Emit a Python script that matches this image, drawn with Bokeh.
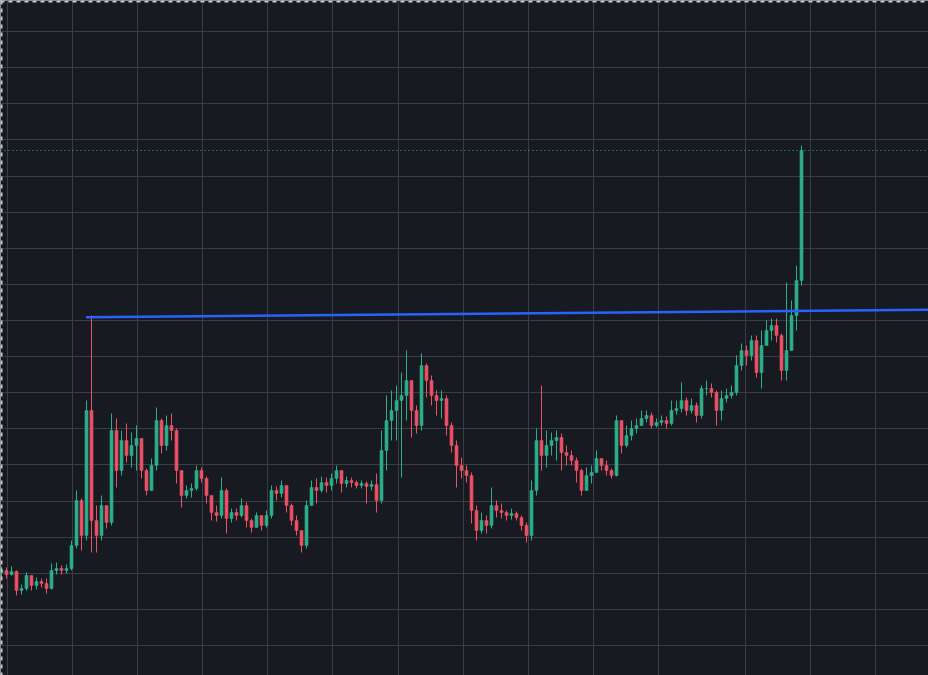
from bokeh.plotting import figure
from bokeh.models import Grid, FixedTicker, Span, ColumnDataSource
from bokeh.embed import file_html
from bokeh.resources import INLINE

# ---- data ----
first_open = 1.28
close = [1.30, 1.26, 1.29, 1.10, 1.12, 1.25, 1.15, 1.19, 1.17, 1.12,
         1.30, 1.32, 1.30, 1.32, 1.55, 2.00, 1.65, 2.90, 1.80, 1.65,
         1.95, 1.78, 2.70, 2.30, 2.60, 2.45, 2.55, 2.62, 2.30, 2.10,
         2.35, 2.80, 2.55, 2.75, 2.70, 2.30, 2.05, 2.10, 2.12, 2.30,
         2.22, 2.05, 1.88, 1.85, 2.10, 1.82, 1.88, 1.85, 1.95, 1.80,
         1.73, 1.85, 1.75, 1.85, 2.10, 2.07, 2.15, 1.95, 1.80, 1.70,
         1.55, 1.95, 2.13, 2.10, 2.18, 2.15, 2.22, 2.30, 2.17, 2.20,
         2.18, 2.15, 2.17, 2.14, 2.16, 2.00, 2.50, 2.80, 2.90, 3.00,
         3.05, 3.20, 2.90, 2.75, 3.35, 3.20, 3.05, 3.00, 3.02, 2.75,
         2.55, 2.35, 2.30, 2.25, 1.90, 1.70, 1.80, 1.75, 1.95, 1.90,
         1.88, 1.85, 1.87, 1.83, 1.75, 1.65, 2.10, 2.60, 2.45, 2.55,
         2.60, 2.63, 2.48, 2.45, 2.40, 2.30, 2.10, 2.25, 2.28, 2.42,
         2.35, 2.30, 2.25, 2.80, 2.55, 2.65, 2.72, 2.75, 2.82, 2.85,
         2.75, 2.78, 2.80, 2.77, 2.90, 2.92, 3.00, 2.90, 2.95, 2.85,
         3.12, 3.12, 3.08, 2.90, 3.02, 3.05, 3.08, 3.35, 3.50, 3.45,
         3.60, 3.28, 3.55, 3.70, 3.75, 3.65, 3.30, 3.50, 3.85, 4.20,
         5.50]
high = [1.34, 1.33, 1.34, 1.30, 1.16, 1.28, 1.24, 1.23, 1.22, 1.22,
        1.37, 1.38, 1.35, 1.36, 1.60, 2.10, 2.02, 3.00, 3.85, 1.95,
        2.05, 1.90, 2.87, 2.82, 2.70, 2.77, 2.68, 2.75, 2.60, 2.32,
        2.42, 2.93, 2.82, 2.85, 2.87, 2.72, 2.25, 2.15, 2.17, 2.35,
        2.33, 2.24, 2.05, 1.95, 2.23, 2.12, 1.92, 1.92, 2.02, 1.98,
        1.82, 1.88, 1.85, 1.90, 2.15, 2.14, 2.20, 2.15, 1.97, 1.85,
        1.70, 2.00, 2.20, 2.22, 2.24, 2.23, 2.27, 2.35, 2.28, 2.24,
        2.23, 2.20, 2.20, 2.19, 2.20, 2.27, 2.70, 3.05, 3.10, 3.15,
        3.28, 3.50, 3.15, 2.95, 3.47, 3.37, 3.25, 3.10, 3.10, 3.05,
        2.78, 2.60, 2.43, 2.35, 2.28, 1.95, 1.88, 1.85, 2.13, 2.00,
        1.97, 1.90, 1.92, 1.89, 1.85, 1.78, 2.20, 2.72, 3.15, 2.70,
        2.68, 2.70, 2.67, 2.55, 2.50, 2.43, 2.32, 2.33, 2.35, 2.50,
        2.42, 2.40, 2.32, 2.85, 2.75, 2.75, 2.80, 2.82, 2.90, 2.90,
        2.88, 2.82, 2.85, 2.84, 3.00, 3.00, 3.18, 3.03, 3.02, 2.98,
        3.15, 3.20, 3.17, 3.10, 3.10, 3.12, 3.15, 3.45, 3.57, 3.55,
        3.65, 3.65, 3.70, 3.80, 3.82, 3.82, 3.67, 4.18, 4.00, 4.35,
        5.55]
low = [1.23, 1.22, 1.25, 1.05, 1.06, 1.10, 1.10, 1.11, 1.13, 1.07,
       1.11, 1.26, 1.26, 1.27, 1.30, 1.52, 1.50, 1.60, 1.48, 1.48,
       1.60, 1.72, 1.75, 2.13, 2.25, 2.38, 2.33, 2.30, 2.22, 2.05,
       2.15, 2.30, 2.47, 2.50, 2.60, 2.17, 1.93, 2.02, 2.03, 2.10,
       2.18, 1.97, 1.80, 1.79, 1.82, 1.67, 1.78, 1.80, 1.83, 1.73,
       1.68, 1.75, 1.70, 1.73, 1.82, 2.00, 2.03, 1.88, 1.75, 1.65,
       1.48, 1.52, 1.95, 1.97, 2.08, 2.08, 2.10, 2.17, 2.08, 2.13,
       2.13, 2.12, 2.12, 1.97, 2.10, 1.88, 1.97, 2.30, 2.60, 2.60,
       2.23, 2.80, 2.63, 2.67, 2.70, 3.03, 2.95, 2.85, 2.82, 2.65,
       2.48, 2.13, 2.22, 2.18, 1.77, 1.60, 1.67, 1.67, 1.72, 1.83,
       1.82, 1.80, 1.81, 1.80, 1.70, 1.58, 1.60, 2.05, 2.30, 2.33,
       2.45, 2.40, 2.30, 2.35, 2.35, 2.18, 2.05, 2.15, 2.17, 2.30,
       2.30, 2.25, 2.22, 2.24, 2.47, 2.53, 2.60, 2.67, 2.75, 2.78,
       2.72, 2.73, 2.75, 2.72, 2.75, 2.86, 2.88, 2.85, 2.87, 2.78,
       2.82, 3.05, 3.03, 2.75, 2.80, 2.98, 3.02, 3.05, 3.30, 3.35,
       3.40, 3.23, 3.12, 3.55, 3.60, 3.58, 3.20, 3.20, 3.55, 3.70,
       4.15]

# trend line drawn on the chart (bar index, price)
trend_x = [16.9, 185.4]
trend_y = [3.833, 3.907]

# grid levels
price_grid = [6.690, 6.329, 5.968, 5.606, 5.245, 4.884, 4.523, 4.162, 3.800,
              3.439, 3.078, 2.717, 2.356, 1.994, 1.633, 1.272, 0.911, 0.550]
time_grid = [1.2, 14.2, 27.2, 40.2, 53.2, 66.2, 79.4, 92.4, 105.4, 118.4,
             131.4, 148.8, 161.8, 174.8]

# ---- styling ----
BG = "#181a21"
GRID = "#3a3d46"
UP = "#2bb08a"
DOWN = "#ec5165"

n = len(close)
idx = list(range(n))
opens = [first_open] + close[:-1]
tops = [max(o, c) for o, c in zip(opens, close)]
bots = [min(o, c) for o, c in zip(opens, close)]
whi = [max(h, t) for h, t in zip(high, tops)]
wlo = [min(l, b) for l, b in zip(low, bots)]
cols = [UP if c >= o else DOWN for o, c in zip(opens, close)]

src = ColumnDataSource(dict(x=idx, top=tops, bottom=bots, hi=whi, lo=wlo, color=cols))

X0, X1 = -0.2, 185.4
Y0, Y1 = 0.25, 7.00

p = figure(width=928, height=675, x_range=(X0, X1), y_range=(Y0, Y1),
           output_backend="svg", toolbar_location=None,
           x_axis_location=None, y_axis_location=None,
           background_fill_color=BG, border_fill_color=BG,
           min_border=0, outline_line_color=None)

for g in list(p.grid):
    g.visible = False

p.add_layout(Grid(dimension=0, ticker=FixedTicker(ticks=time_grid),
                  grid_line_color=GRID, grid_line_width=1))
p.add_layout(Grid(dimension=1, ticker=FixedTicker(ticks=price_grid),
                  grid_line_color=GRID, grid_line_width=1))

p.segment(x0="x", y0="lo", x1="x", y1="hi", source=src, line_color="color", line_width=1)
p.vbar(x="x", width=0.62, top="top", bottom="bottom", source=src,
       fill_color="color", line_color="color", line_width=0.5, fill_alpha=0.95)

p.line(trend_x, trend_y, line_color="#2962ff", line_width=2.5)

p.add_layout(Span(location=close[-1], dimension="width", line_color="#3fb59a",
                  line_dash="1 3", line_width=1))

# dashed selection frame along the top and left edges
p.add_layout(Span(location=Y1 - 0.01, dimension="width", line_color="#c8c8c8",
                  line_dash="4 4", line_width=2))
p.add_layout(Span(location=X0 + 0.2, dimension="height", line_color="#c8c8c8",
                  line_dash="4 4", line_width=2))

open("out.html", "w").write(file_html(p, INLINE))
